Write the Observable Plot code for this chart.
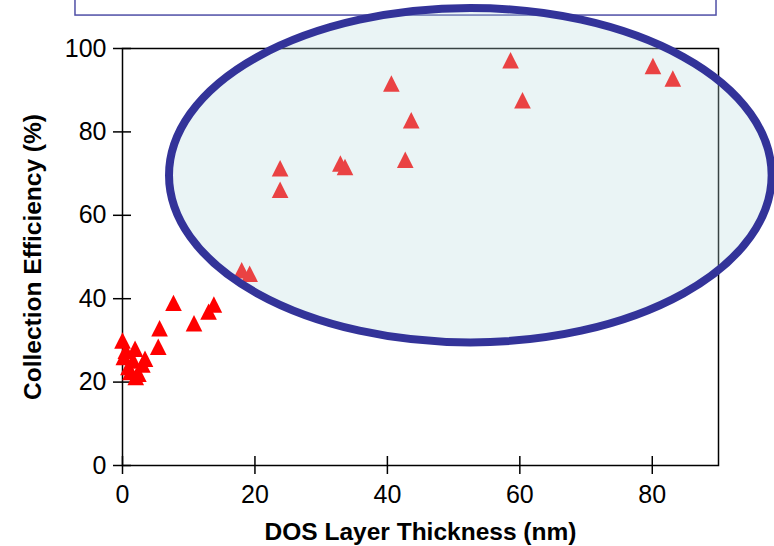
<!DOCTYPE html>
<html>
<head>
<meta charset="utf-8">
<script src="https://cdn.jsdelivr.net/npm/d3@7"></script>
<script src="https://cdn.jsdelivr.net/npm/@observablehq/plot@0.6"></script>
<style>
  html, body { margin: 0; padding: 0; background: white; }
</style>
</head>
<body>
<script>
// DOS layer thickness (nm) and the measured collection efficiency (%)
const thickness = [
  40.6, 58.6, 60.4, 43.6, 42.7, 80.1, 83.1, 23.8, 23.8, 32.9, 33.6, 18.0, 19.2,
  7.7, 13.8, 13.0, 10.8, 5.6, 5.4,
  0.0, 0.2, 0.9, 1.2, 1.9, 1.6, 2.0, 2.4, 3.4, 3.0, 0.5
];
const efficiency = [
  91.6, 97.2, 87.6, 82.8, 73.3, 95.8, 92.8, 71.3, 66.1, 72.4, 71.6, 46.8, 46.0,
  39.0, 38.6, 36.9, 34.1, 32.9, 28.5,
  30.0, 26.0, 23.6, 22.4, 28.0, 25.2, 21.2, 22.0, 25.6, 24.2, 27.5
];

// Axis ticks
const xTicks = [0, 20, 40, 60, 80];
const yTicks = [0, 20, 40, 60, 80, 100];

// Highlight ring around the thick-layer results (data units)
const ring = {cx: 52.6, cy: 69.5, rx: 45.5, ry: 40.1};
// Caption box along the top edge (data units)
const banner = [{x1: -7.1, x2: 89.7, y1: 107.9, y2: 116}];

// Filled triangle, centred on its bounding box
const triangle = {
  draw(context, size) {
    const s = Math.sqrt(size / Math.PI);
    const hw = s * 1.04, hh = s * 1.03;
    context.moveTo(0, -hh);
    context.lineTo(hw, hh);
    context.lineTo(-hw, hh);
    context.closePath();
  }
};

function ringMark(index, scales) {
  const {x, y} = scales;
  const cx = x(ring.cx), cy = y(ring.cy);
  const rx = Math.abs(x(ring.cx + ring.rx) - cx);
  const ry = Math.abs(y(ring.cy + ring.ry) - cy);
  const e = document.createElementNS("http://www.w3.org/2000/svg", "ellipse");
  e.setAttribute("cx", cx);
  e.setAttribute("cy", cy);
  e.setAttribute("rx", rx);
  e.setAttribute("ry", ry);
  e.setAttribute("fill", "rgb(185,218,222)");
  e.setAttribute("fill-opacity", 0.3);
  e.setAttribute("stroke", "#333399");
  e.setAttribute("stroke-width", 8);
  return e;
}

const chart = Plot.plot({
  width: 774,
  height: 546,
  marginLeft: 122,
  marginRight: 56,
  marginTop: 48,
  marginBottom: 81,
  style: {
    fontFamily: "'Liberation Sans', Arial, Helvetica, sans-serif",
    fontSize: "25px",
    color: "black",
    background: "white",
    overflow: "visible"
  },
  x: {domain: [0, 90]},
  y: {domain: [0, 100]},
  marks: [
    Plot.rect(banner, {x1: "x1", x2: "x2", y1: "y1", y2: "y2", fill: "white", stroke: "#4f4fa6", strokeWidth: 1.5, clip: false}),
    Plot.frame({stroke: "black", strokeWidth: 1.5}),
    // ticks crossing the axis lines
    Plot.axisX(xTicks, {tickSize: 18, dy: -9, strokeWidth: 1.5, tickFormat: () => "", label: null}),
    Plot.axisY(yTicks, {tickSize: 18, dx: 9, strokeWidth: 1.5, tickFormat: () => "", label: null}),
    // tick labels
    Plot.axisX(xTicks, {tickSize: 0, tickPadding: 20, fontSize: 25, label: null}),
    Plot.axisY(yTicks, {tickSize: 0, tickPadding: 16, fontSize: 25, label: null}),
    Plot.text(["DOS Layer Thickness (nm)"], {frameAnchor: "bottom", dy: 67, textAnchor: "middle", lineAnchor: "middle", fontSize: 24.5, fontWeight: "bold"}),
    Plot.text(["Collection Efficiency (%)"], {frameAnchor: "left", dx: -89, rotate: -90, textAnchor: "middle", lineAnchor: "middle", fontSize: 24.5, fontWeight: "bold"}),
    Plot.dot(efficiency, {x: thickness, y: efficiency, symbol: triangle, r: 8, fill: "#ff0000", stroke: "none"}),
    ringMark
  ]
});

document.body.appendChild(chart);
</script>
</body>
</html>
